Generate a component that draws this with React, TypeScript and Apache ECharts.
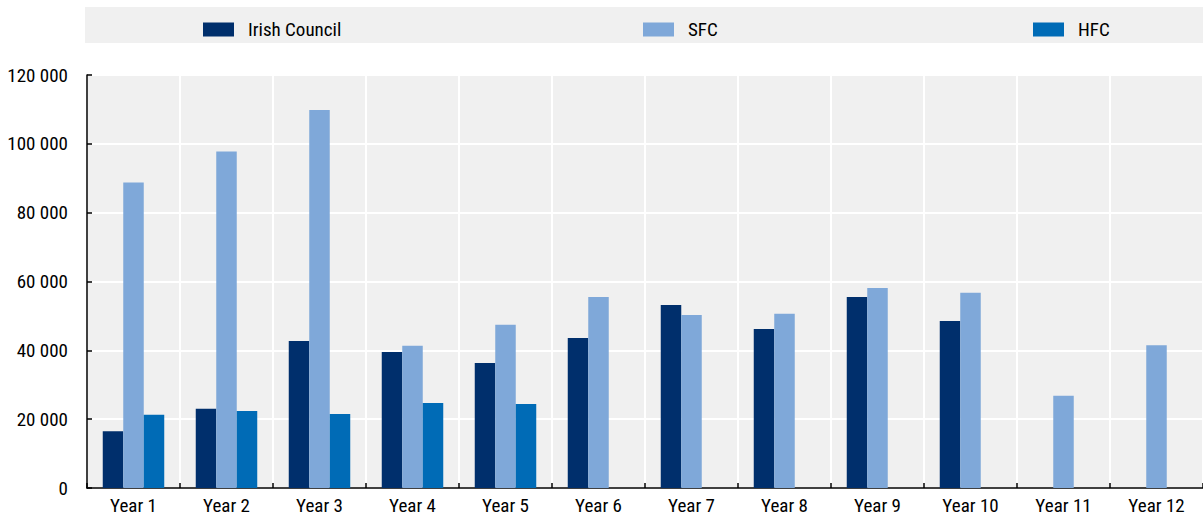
import React, { useEffect, useRef } from "react";
import * as echarts from "echarts";

const categories = ["Year 1", "Year 2", "Year 3", "Year 4", "Year 5", "Year 6", "Year 7", "Year 8", "Year 9", "Year 10", "Year 11", "Year 12"];
const irishCouncil = [16500, 23000, 42700, 39500, 36300, 43600, 53200, 46200, 55500, 48500, null, null];
const sfc = [88800, 97800, 109800, 41300, 47400, 55500, 50300, 50600, 58100, 56700, 26800, 41500];
const hfc = [21300, 22400, 21500, 24700, 24400, null, null, null, null, null, null, null];
const yTicks = [0, 20000, 40000, 60000, 80000, 100000, 120000];

const FONT = "'Liberation Sans Narrow', 'Arial Narrow', 'Roboto Condensed', 'Liberation Sans', Arial, sans-serif";

export default function App() {
  const ref = useRef<HTMLDivElement>(null);
  useEffect(() => {
    if (!ref.current) return;
    const chart = echarts.init(ref.current, undefined, { renderer: "svg" });
    const fmt = (v: number) => String(v).replace(/\B(?=(\d{3})+(?!\d))/g, " ");
    const legendCommon = {
      top: 20,
      padding: 0,
      itemWidth: 31,
      itemHeight: 14,
      itemGap: 14,
      icon: "rect",
      textStyle: { fontFamily: FONT, fontSize: 19, color: "#000", padding: [0, 0, 0, 9] },
      selectedMode: false as const,
    };
    chart.setOption({
      animation: false,
      color: ["#002F6C", "#7FA8D9", "#006BB6"],
      graphic: [
        { type: "rect", left: 85, top: 7, shape: { width: 1118, height: 36 }, style: { fill: "#F0F0F0" }, z: -10 },
      ],
      legend: [
        { ...legendCommon, left: 203, data: ["Irish Council"] },
        { ...legendCommon, left: 643, data: ["SFC"] },
        { ...legendCommon, left: 1033, data: ["HFC"] },
      ],
      grid: {
        left: 87,
        right: 0,
        top: 75,
        bottom: 28,
        show: true,
        backgroundColor: "#F0F0F0",
        borderWidth: 0,
      },
      xAxis: {
        type: "category",
        data: categories,
        axisLine: { show: true, lineStyle: { color: "#000", width: 1.5 } },
        axisTick: { show: true, inside: true, length: 5, lineStyle: { color: "#000", width: 1.5 } },
        axisLabel: { fontFamily: FONT, fontSize: 19, color: "#000", margin: 8 },
        splitLine: { show: true, lineStyle: { color: "#FFFFFF", width: 2 } },
      },
      yAxis: {
        type: "value",
        min: yTicks[0],
        max: yTicks[yTicks.length - 1],
        interval: 20000,
        axisLine: { show: true, lineStyle: { color: "#000", width: 1.5 } },
        axisTick: { show: true, inside: true, length: 5, lineStyle: { color: "#000", width: 1.5 } },
        axisLabel: { fontFamily: FONT, fontSize: 19, color: "#000", margin: 19, formatter: fmt },
        splitLine: { show: true, lineStyle: { color: "#FFFFFF", width: 2 } },
      },
      series: [
        { name: "Irish Council", type: "bar", data: irishCouncil, barWidth: 20.5, barGap: "0%" },
        { name: "SFC", type: "bar", data: sfc, barWidth: 20.5, barGap: "0%" },
        { name: "HFC", type: "bar", data: hfc, barWidth: 20.5, barGap: "0%" },
      ],
    });
    return () => chart.dispose();
  }, []);
  return <div ref={ref} style={{ width: 1203, height: 516, position: "absolute", left: 0, top: 0 }} />;
}
